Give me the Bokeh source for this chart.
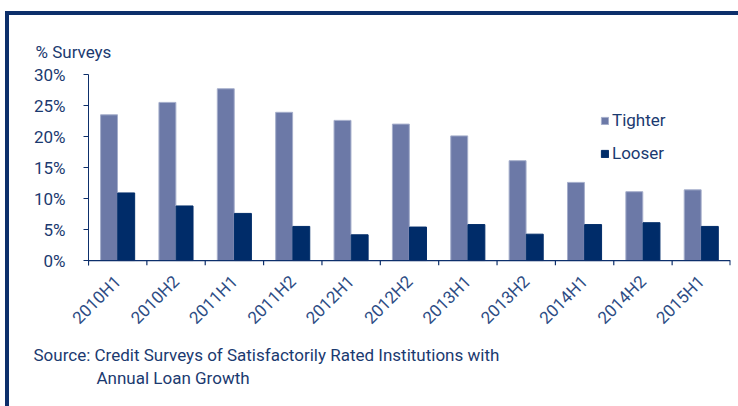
import math
from bokeh.plotting import figure
from bokeh.layouts import column, row
from bokeh.models import (FactorRange, Range1d, LinearAxis, CategoricalAxis, FixedTicker,
                          PrintfTickFormatter, Legend, LegendItem, Title, Span,
                          ColumnDataSource, Spacer)
from bokeh.transform import dodge
from bokeh.embed import file_html
from bokeh.resources import INLINE

periods = ["2010H1", "2010H2", "2011H1", "2011H2", "2012H1", "2012H2",
           "2013H1", "2013H2", "2014H1", "2014H2", "2015H1"]
tighter = [23.5, 25.5, 27.7, 23.9, 22.6, 22.0, 20.1, 16.1, 12.6, 11.1, 11.4]
looser = [10.9, 8.8, 7.6, 5.5, 4.15, 5.4, 5.8, 4.25, 5.8, 6.1, 5.5]
y_ticks = [0, 5, 10, 15, 20, 25, 30]
source_lines = ["Source: Credit Surveys of Satisfactorily Rated Institutions with",
                "Annual Loan Growth"]

NAVY = "#0d2f6b"
TEXT = "#1b3a70"
FONT = "Roboto"
TICK_DEPTH = -0.8  # tick mark length below the 0% line, in axis units

src = ColumnDataSource(dict(period=periods, tighter=tighter, looser=looser))

p = figure(width=729, height=391,
           x_range=FactorRange(factors=periods, range_padding=0, factor_padding=0),
           y_range=Range1d(TICK_DEPTH, 30),
           output_backend="svg", toolbar_location=None,
           x_axis_location=None, y_axis_location=None,
           min_border_left=79, min_border_right=8, min_border_top=59, min_border_bottom=141)
p.outline_line_color = None
p.grid.visible = False
p.background_fill_color = "white"
p.border_fill_color = "white"

r_t = p.vbar(x=dodge("period", -0.148, range=p.x_range), top="tighter", width=0.29,
             source=src, fill_color="#6c79a7", line_color="#a5aecb", line_width=1)
r_l = p.vbar(x=dodge("period", 0.146, range=p.x_range), top="looser", width=0.29,
             source=src, fill_color="#002c69", line_color="#002c69", line_width=1)

# 0% baseline and category boundary tick marks below it
p.add_layout(Span(location=0, dimension="width", line_color=NAVY, line_width=1.3))
p.segment(x0=dodge("period", -0.5, range=p.x_range), y0=0,
          x1=dodge("period", -0.5, range=p.x_range), y1=TICK_DEPTH,
          source=src, line_color=NAVY, line_width=1.2)
last_src = ColumnDataSource(dict(period=periods[-1:]))
p.segment(x0=dodge("period", 0.5, range=p.x_range), y0=0,
          x1=dodge("period", 0.5, range=p.x_range), y1=TICK_DEPTH,
          source=last_src, line_color=NAVY, line_width=2)

yaxis = LinearAxis(ticker=FixedTicker(ticks=y_ticks),
                   formatter=PrintfTickFormatter(format="%d%%"),
                   major_tick_in=0, major_tick_out=5, minor_tick_line_color=None,
                   axis_line_color=NAVY, major_tick_line_color=NAVY,
                   major_label_standoff=18,
                   major_label_text_font=FONT, major_label_text_font_size="17px",
                   major_label_text_color=TEXT)
p.add_layout(yaxis, "left")

xaxis = CategoricalAxis(axis_line_color=None, major_tick_line_color=None,
                        major_tick_in=0, major_tick_out=0,
                        major_label_standoff=13, major_label_orientation=math.pi / 4,
                        major_label_text_font=FONT, major_label_text_font_size="17px",
                        major_label_text_color="#2d4c84")
p.add_layout(xaxis, "below")

p.add_layout(Title(text="% Surveys", align="left", offset=-53, standoff=26,
                   text_font=FONT, text_font_size="17px", text_font_style="normal",
                   text_color=TEXT), "above")

p.add_layout(Title(text=source_lines[0], align="left", offset=-55, standoff=10,
                   text_font=FONT, text_font_size="17px", text_font_style="normal",
                   text_color=TEXT), "below")
p.add_layout(Title(text=source_lines[1], align="left", offset=8, standoff=-7,
                   text_font=FONT, text_font_size="17px", text_font_style="normal",
                   text_color=TEXT), "below")

legend = Legend(items=[LegendItem(label="Tighter", renderers=[r_t]),
                       LegendItem(label="Looser", renderers=[r_l])],
                location=(512, 102), glyph_width=9, glyph_height=9, label_standoff=3,
                spacing=13, padding=0, margin=0, background_fill_alpha=0,
                border_line_color=None, label_text_font=FONT,
                label_text_font_size="17px", label_text_color=TEXT)
p.add_layout(legend)

frame_style = {"background-color": NAVY}
layout = column(
    Spacer(width=738, height=11),
    row(Spacer(width=5, height=4), Spacer(width=733, height=4, styles=frame_style)),
    row(Spacer(width=5, height=391), Spacer(width=4, height=391, styles=frame_style), p),
)

open("out.html", "w").write(file_html(layout, INLINE))
